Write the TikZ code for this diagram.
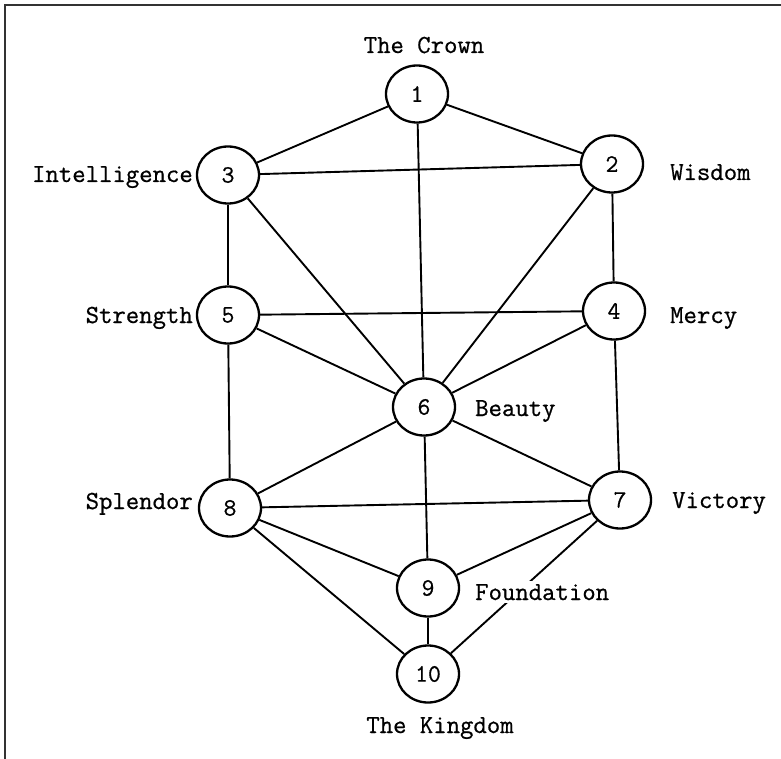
\documentclass[tikz,border=0pt]{standalone}
\usepackage{fontspec}
\newfontfamily\typewriter[FakeBold=0.7]{Latin Modern Mono}
\usetikzlibrary{shapes.geometric}
\begin{document}
\begin{tikzpicture}[x=1pt,y=-1pt,
  sefira/.style={draw, ellipse, line width=2.3pt, minimum width=62pt, minimum height=57pt, inner sep=0pt,
    font=\typewriter\fontsize{25}{29}\selectfont},
  path/.style={line width=1.9pt},
  lbl/.style={inner sep=0pt, font=\typewriter\fontsize{26}{30}\selectfont},
  frame/.style={line width=2.6pt, black!80}]
\useasboundingbox (0,0) rectangle (781,759);
\fill[white] (0,0) rectangle (781,759);
\draw[frame] (5,759) -- (5,5) -- (781,5);
% sefirot
\node[sefira] (n1) at (417,94) {1};
\node[sefira] (n2) at (612,164) {2};
\node[sefira] (n3) at (228,175) {3};
\node[sefira] (n4) at (614,311) {4};
\node[sefira] (n5) at (228,315) {5};
\node[sefira] (n6) at (424,407) {6};
\node[sefira] (n7) at (620,500) {7};
\node[sefira] (n8) at (230,508) {8};
\node[sefira] (n9) at (428,588) {9};
\node[sefira] (n10) at (428,674) {10};
% paths
\draw[path] (n1) -- (n3);
\draw[path] (n1) -- (n2);
\draw[path] (n1) -- (n6);
\draw[path] (n3) -- (n2);
\draw[path] (n3) -- (n5);
\draw[path] (n3) -- (n6);
\draw[path] (n2) -- (n4);
\draw[path] (n2) -- (n6);
\draw[path] (n5) -- (n4);
\draw[path] (n5) -- (n6);
\draw[path] (n5) -- (n8);
\draw[path] (n4) -- (n6);
\draw[path] (n4) -- (n7);
\draw[path] (n6) -- (n8);
\draw[path] (n6) -- (n7);
\draw[path] (n6) -- (n9);
\draw[path] (n8) -- (n7);
\draw[path] (n8) -- (n9);
\draw[path] (n8) -- (n10);
\draw[path] (n7) -- (n9);
\draw[path] (n7) -- (n10);
\draw[path] (n9) -- (n10);
% labels
\node[lbl, anchor=base] (lcrown) at (424,53) {The Crown};
\node[lbl, anchor=base east] (lint) at (193,182) {Intelligence};
\node[lbl, anchor=base west] (lwis) at (670,180) {Wisdom};
\node[lbl, anchor=base east] (lstr) at (193,323) {Strength};
\node[lbl, anchor=base west] (lmer) at (670,323) {Mercy};
\node[lbl, anchor=base west] (lbea) at (475,416) {Beauty};
\node[lbl, anchor=base east] (lspl) at (193,509) {Splendor};
\node[lbl, anchor=base west] (lvic) at (672,508) {Victory};
\node[lbl, anchor=base west, fill=white, inner ysep=3pt] (lfou) at (475,600) {Foundation};
\node[lbl, anchor=base] (lkin) at (440,733) {The Kingdom};
\end{tikzpicture}
\end{document}
